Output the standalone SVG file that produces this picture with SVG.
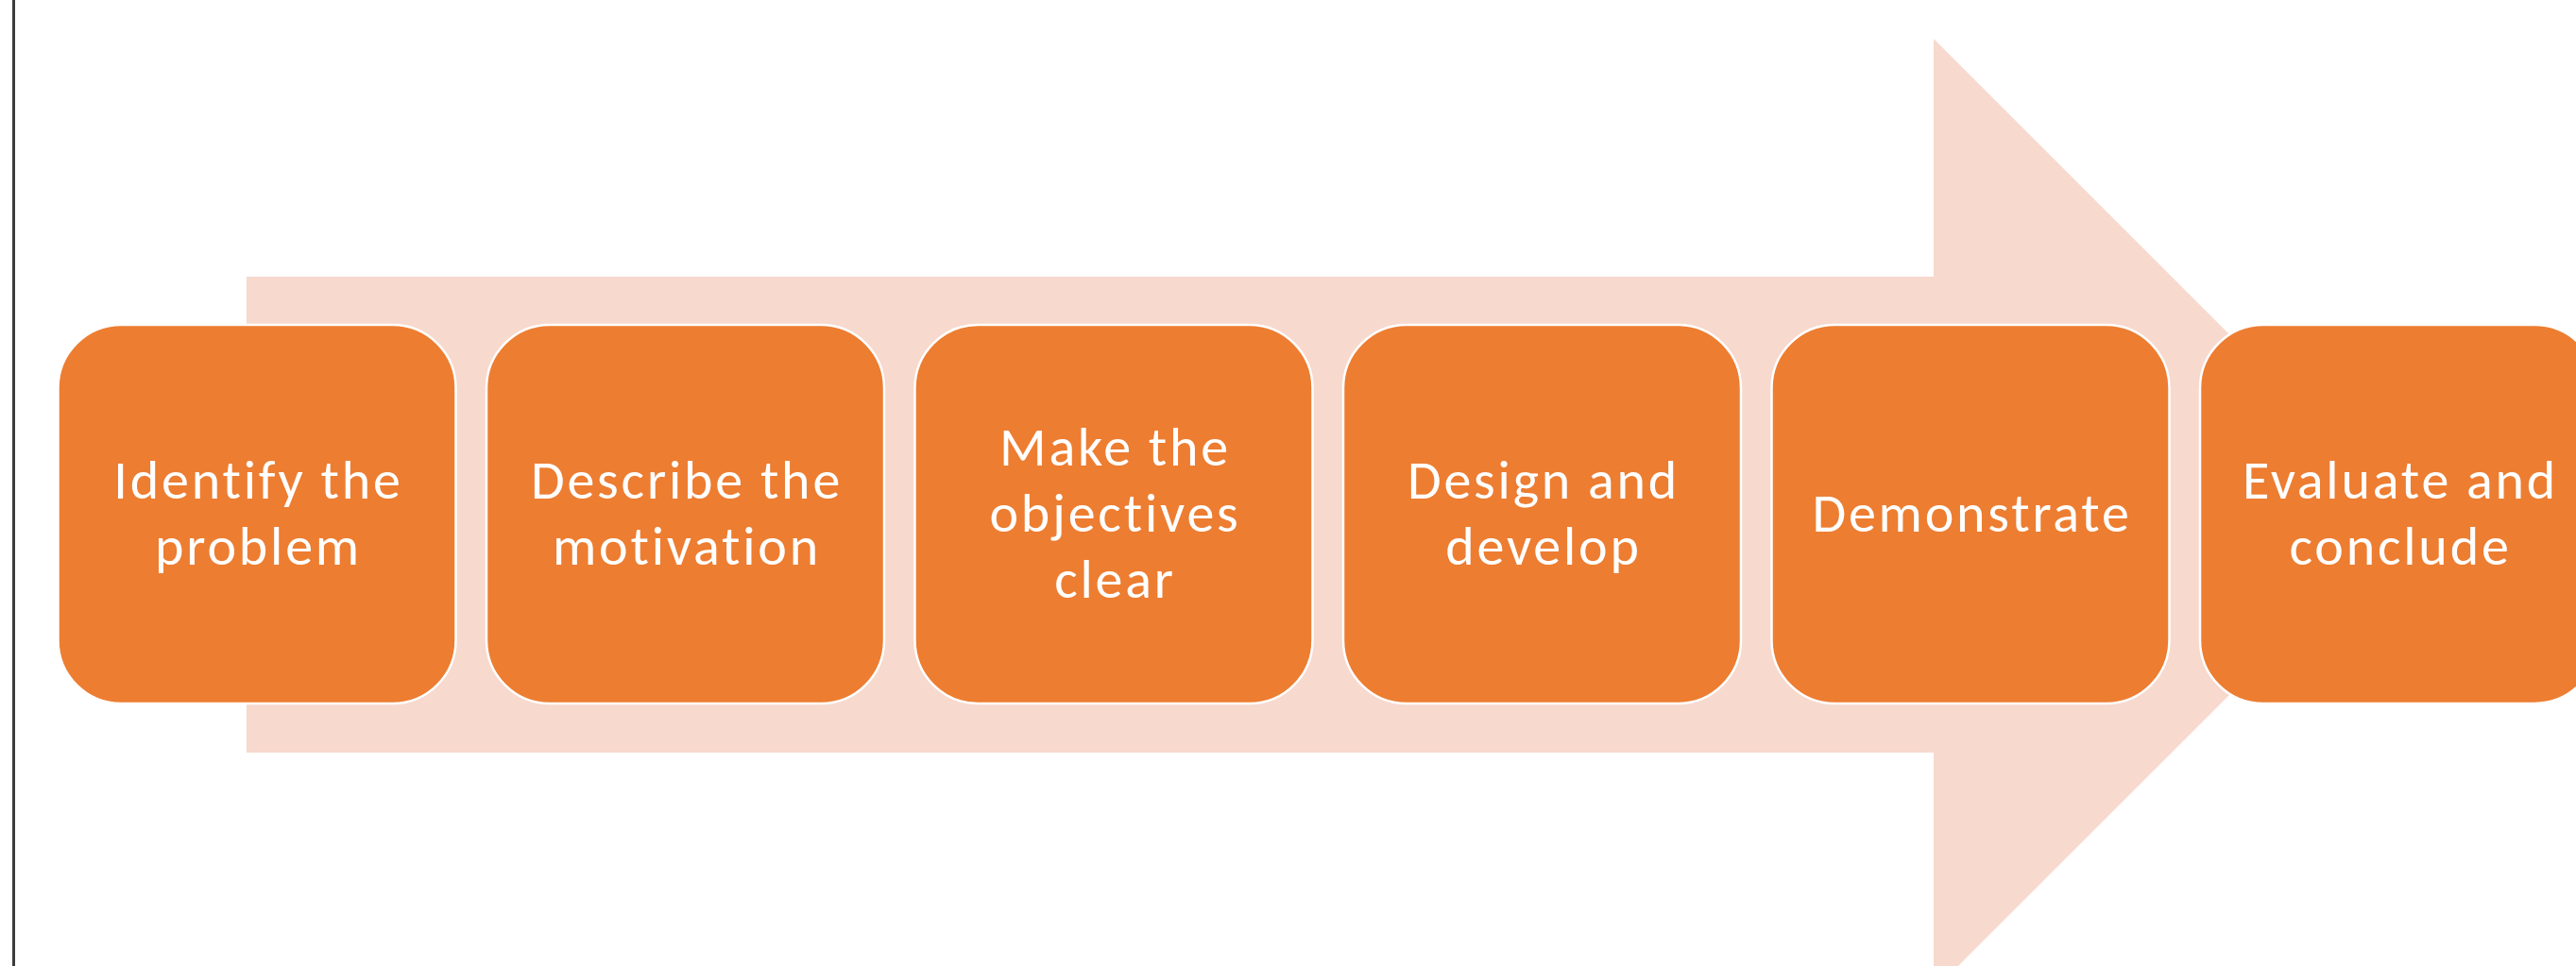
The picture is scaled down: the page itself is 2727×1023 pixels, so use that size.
<svg xmlns="http://www.w3.org/2000/svg" width="2727" height="1023" viewBox="0 0 2727 1023">
  <style>
    .step { fill: #ED7D31; stroke: #FFFFFF; stroke-width: 2.5; }
    .label { fill: #FFFFFF; font-family: Calibri, Carlito, Lato, "Open Sans", sans-serif; font-size: 58px; letter-spacing: 2.8px; text-anchor: middle; font-variant-ligatures: none; }
    .arrow { fill: #F7D9CE; }
  </style>
  <rect x="0" y="0" width="2727" height="1023" fill="#FFFFFF"/>
  <!-- page edge rule -->
  <rect x="13" y="0" width="3" height="1023" fill="#3C3C3C"/>

  <!-- background process arrow -->
  <g id="process-arrow">
    <polygon class="arrow" points="261,293 2047,293 2047,41 2551,545 2047,1049 2047,797 261,797"/>
  </g>

  <g id="connectors"></g>

  <g id="step-1">
    <rect class="step" x="61.5" y="344" width="421" height="401" rx="67" ry="67"/>
    <text class="label" x="273.5" y="528">Identify the</text>
    <text class="label" x="273.5" y="598">problem</text>
  </g>
  <g id="step-2">
    <rect class="step" x="515" y="344" width="421" height="401" rx="67" ry="67"/>
    <text class="label" x="727" y="528">Describe the</text>
    <text class="label" x="727" y="598">motivation</text>
  </g>
  <g id="step-3">
    <rect class="step" x="968.5" y="344" width="421" height="401" rx="67" ry="67"/>
    <text class="label" x="1180.5" y="493">Make the</text>
    <text class="label" x="1180.5" y="563">objectives</text>
    <text class="label" x="1180.5" y="633">clear</text>
  </g>
  <g id="step-4">
    <rect class="step" x="1422" y="344" width="421" height="401" rx="67" ry="67"/>
    <text class="label" x="1634" y="528">Design and</text>
    <text class="label" x="1634" y="598">develop</text>
  </g>
  <g id="step-5">
    <rect class="step" x="1875.5" y="344" width="421" height="401" rx="67" ry="67"/>
    <text class="label" x="2087.5" y="563">Demonstrate</text>
  </g>
  <g id="step-6">
    <rect class="step" x="2329" y="344" width="421" height="401" rx="67" ry="67"/>
    <text class="label" x="2541" y="528">Evaluate and</text>
    <text class="label" x="2541" y="598">conclude</text>
  </g>
</svg>
